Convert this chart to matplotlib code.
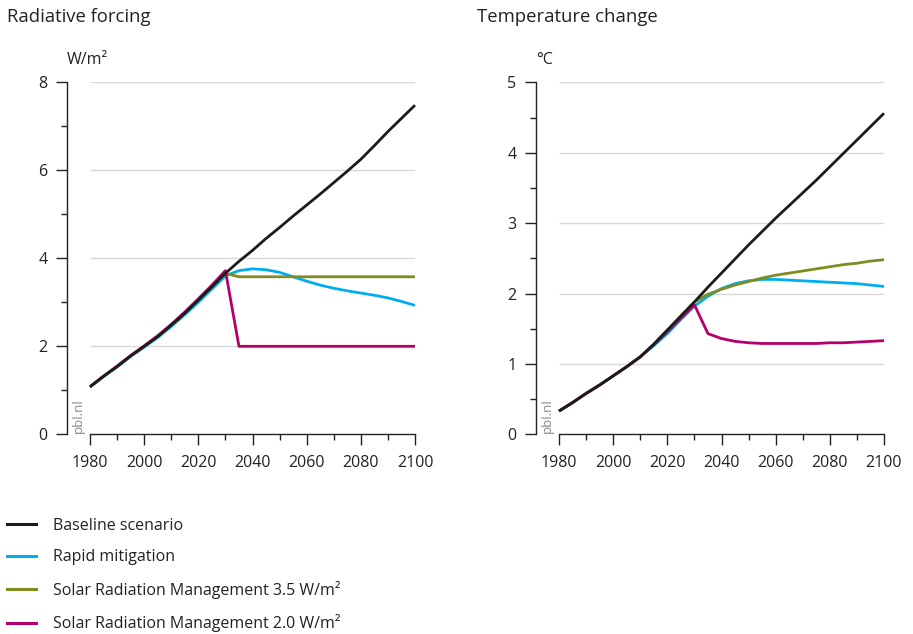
import matplotlib
matplotlib.use("Agg")
import matplotlib.pyplot as plt
from matplotlib.ticker import MultipleLocator
from matplotlib.lines import Line2D

plt.rcParams['font.family'] = ['Open Sans', 'DejaVu Sans']

years = list(range(1980, 2101, 5))

rf_baseline = [1.08, 1.32, 1.54, 1.78, 2.0, 2.22, 2.48, 2.75, 3.05, 3.35, 3.66, 3.93, 4.18,
               4.45, 4.70, 4.96, 5.21, 5.46, 5.72, 5.98, 6.25, 6.56, 6.88, 7.18, 7.48]
rf_rapid = [1.08, 1.31, 1.53, 1.77, 1.98, 2.2, 2.45, 2.72, 3.0, 3.3, 3.6, 3.72, 3.76,
            3.74, 3.68, 3.58, 3.48, 3.39, 3.32, 3.26, 3.21, 3.16, 3.1, 3.02, 2.93]
rf_srm35 = [1.08, 1.32, 1.54, 1.78, 2.0, 2.22, 2.48, 2.75, 3.05, 3.35, 3.66, 3.58, 3.58,
            3.58, 3.58, 3.58, 3.58, 3.58, 3.58, 3.58, 3.58, 3.58, 3.58, 3.58, 3.58]
rf_srm20 = [1.08, 1.32, 1.55, 1.79, 2.01, 2.24, 2.50, 2.78, 3.08, 3.39, 3.72, 2.0, 2.0,
            2.0, 2.0, 2.0, 2.0, 2.0, 2.0, 2.0, 2.0, 2.0, 2.0, 2.0, 2.0]

t_baseline = [0.33, 0.45, 0.58, 0.70, 0.83, 0.96, 1.10, 1.28, 1.48, 1.68, 1.88, 2.09, 2.29,
              2.49, 2.69, 2.88, 3.07, 3.25, 3.43, 3.61, 3.80, 3.99, 4.18, 4.37, 4.56]
t_rapid = [0.33, 0.45, 0.58, 0.70, 0.83, 0.96, 1.10, 1.26, 1.43, 1.63, 1.82, 1.96, 2.07,
           2.14, 2.18, 2.20, 2.20, 2.19, 2.18, 2.17, 2.16, 2.15, 2.14, 2.12, 2.10]
t_srm35 = [0.33, 0.45, 0.58, 0.70, 0.83, 0.96, 1.10, 1.28, 1.48, 1.68, 1.88, 1.99, 2.06,
           2.12, 2.17, 2.22, 2.26, 2.29, 2.32, 2.35, 2.38, 2.41, 2.43, 2.46, 2.48]
t_srm20 = [0.33, 0.45, 0.58, 0.70, 0.83, 0.96, 1.10, 1.27, 1.46, 1.65, 1.84, 1.43, 1.36,
           1.32, 1.30, 1.29, 1.29, 1.29, 1.29, 1.29, 1.30, 1.30, 1.31, 1.32, 1.33]

labels = ["Baseline scenario", "Rapid mitigation",
          "Solar Radiation Management 3.5 W/m\u00b2",
          "Solar Radiation Management 2.0 W/m\u00b2"]
colors = ["#1c1c1c", "#00aeef", "#7f8c1f", "#b5006c"]

xticks = [1980, 2000, 2020, 2040, 2060, 2080, 2100]
rf_ticks = [0, 2, 4, 6, 8]
t_ticks = [0, 1, 2, 3, 4, 5]

W, H = 913, 634
fig = plt.figure(figsize=(W / 100, H / 100), dpi=100)

def px_ax(x0, y0, x1, y1):
    return fig.add_axes([x0 / W, 1 - y1 / H, (x1 - x0) / W, (y1 - y0) / H])

ax1 = px_ax(67, 82.3, 415, 434.3)
ax2 = px_ax(536, 82.3, 884, 434.3)

text_col = "#222222"
grid_col = "#d9d9d9"
fs = 11.5

def style(ax, yticks, yminor, title, unit, title_x, unit_x):
    ax.set_xlim(1980 - 23 / (325 / 120), 2100)
    ax.set_ylim(yticks[0], yticks[-1])
    for s in ['top', 'right']:
        ax.spines[s].set_visible(False)
    ax.spines['bottom'].set_bounds(1980, 2100)
    for s in ['left', 'bottom']:
        ax.spines[s].set_linewidth(1.0)
        ax.spines[s].set_color(text_col)
    ax.set_xticks(xticks)
    ax.xaxis.set_minor_locator(MultipleLocator(10))
    ax.set_yticks(yticks)
    ax.yaxis.set_minor_locator(MultipleLocator(yminor))
    ax.tick_params(axis='both', which='major', length=8, width=1.0, color=text_col,
                   labelsize=fs, labelcolor=text_col)
    ax.tick_params(axis='x', which='major', pad=7)
    ax.tick_params(axis='y', which='major', pad=6)
    ax.tick_params(axis='both', which='minor', length=4, width=1.0, color=text_col)
    ax.hlines([v for v in yticks if v != 0], 1980, 2100, color=grid_col, lw=1.0, zorder=0)
    fig.text(unit_x / W, 1 - 60 / H, unit, fontsize=fs, color=text_col,
             ha='left', va='center')
    fig.text(title_x / W, 1 - 17 / H, title, fontsize=13.3, color=text_col,
             ha='left', va='center')
    ax.text(11 / 348, 0.005, "pbl.nl", transform=ax.transAxes, rotation=90,
            fontsize=9.5, color="#8a8a8a", ha='center', va='bottom')

style(ax1, rf_ticks, 1, "Radiative forcing", "W/m\u00b2", 7, 67)
style(ax2, t_ticks, 0.5, "Temperature change", "\u00b0C", 477, 536)

lw = 2.0
for ax, series in [(ax1, [rf_baseline, rf_rapid, rf_srm35, rf_srm20]),
                   (ax2, [t_baseline, t_rapid, t_srm35, t_srm20])]:
    order = [1, 2, 3, 0]
    for k, i in enumerate(order):
        ax.plot(years, series[i], color=colors[i], lw=lw, solid_capstyle='butt',
                zorder=3 + k, clip_on=False)

handles = [Line2D([0], [0], color=c, lw=2.2) for c in colors]
leg = fig.legend(handles, labels, loc='upper left', bbox_to_anchor=(7 / W, 1 - 518 / H),
                 frameon=False, fontsize=fs, handlelength=29 / 16, handletextpad=17 / 16,
                 labelspacing=0.97, borderaxespad=0, borderpad=0)
for t in leg.get_texts():
    t.set_color(text_col)

fig.savefig("out.png", dpi=100)
